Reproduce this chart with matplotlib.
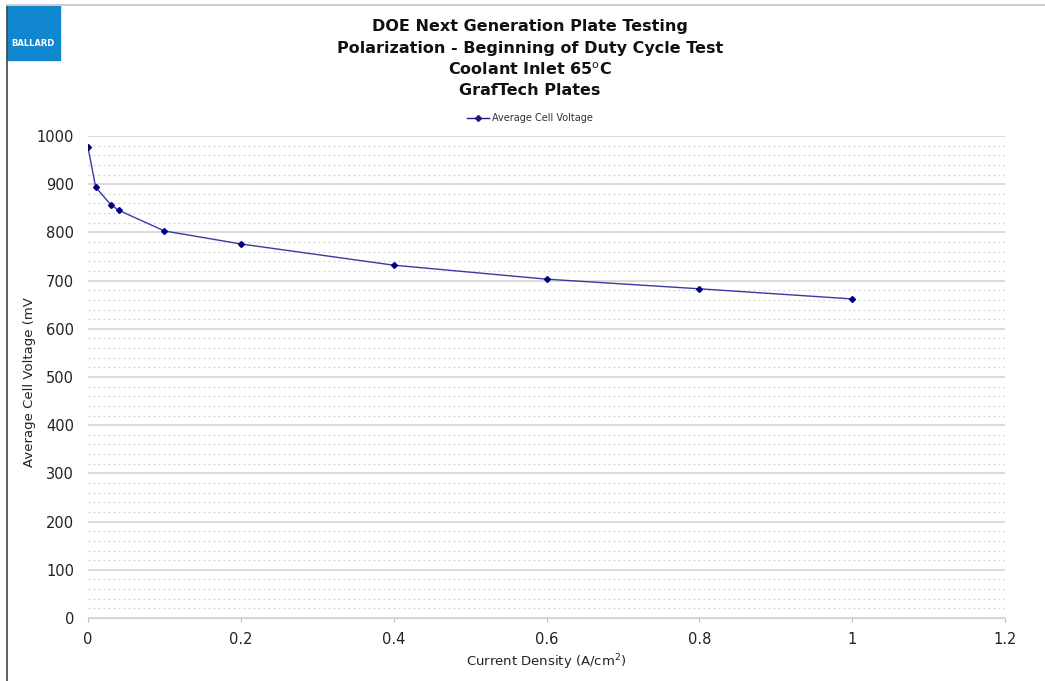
import matplotlib
matplotlib.use('Agg')
import matplotlib.pyplot as plt
from matplotlib.patches import Rectangle
from matplotlib.lines import Line2D
from matplotlib.ticker import MultipleLocator

# Data
current_density = [0.0, 0.01, 0.03, 0.04, 0.1, 0.2, 0.4, 0.6, 0.8, 1.0]
cell_voltage = [977, 894, 857, 846, 803, 776, 732, 703, 683, 662]

title_lines = ['DOE Next Generation Plate Testing',
               'Polarization - Beginning of Duty Cycle Test',
               'Coolant Inlet 65$^{\\mathrm{o}}$C',
               'GrafTech Plates']

fig = plt.figure(figsize=(10.45, 6.81), dpi=100)
ax = fig.add_axes([88 / 1045, 1 - 618 / 681, (1005 - 88) / 1045, (618 - 136) / 681])

navy = '#1a1a80'
ax.plot(current_density, cell_voltage, color='#3a3aa0', lw=1.0,
        marker='D', ms=3, mfc='#000080', mec='#000080', zorder=3)

ax.set_xlim(0, 1.2)
ax.set_ylim(0, 1000)
ax.yaxis.set_major_locator(MultipleLocator(100))
ax.yaxis.set_minor_locator(MultipleLocator(20))
ax.set_xticks([0, 0.2, 0.4, 0.6, 0.8, 1, 1.2])
ax.set_xticklabels(['0', '0.2', '0.4', '0.6', '0.8', '1', '1.2'])

ax.grid(axis='y', which='major', color='#d4d4d4', lw=1.2)
ax.grid(axis='y', which='minor', color='#d0d0d0', lw=0.9, ls=(0, (1.5, 2.5)))
for s in ['top', 'right', 'left']:
    ax.spines[s].set_visible(False)
ax.spines['bottom'].set_color('#d4d4d4')
ax.tick_params(axis='y', which='both', length=0, labelsize=10.5, pad=10, colors='#222222')
ax.tick_params(axis='x', length=3, color='#bbbbbb', labelsize=10.5, pad=7, labelcolor='#222222')

ax.set_xlabel('Current Density (A/cm$^2$)', fontsize=9.5, color='#222222', labelpad=4)
ax.set_ylabel('Average Cell Voltage (mV', fontsize=9.5, color='#222222')
ax.yaxis.set_label_coords(-0.057, 0.49)

# Titles
for i, line in enumerate(title_lines):
    fig.text(530 / 1045, 1 - (27 + i * 21.3) / 681, line, ha='center', va='center',
             fontsize=11.5, fontweight='bold', color='#111111')

# Legend
leg_handle = Line2D([], [], color=navy, lw=1, marker='D', ms=3)
fig.legend(handles=[leg_handle], labels=['Average Cell Voltage'], loc='center',
           bbox_to_anchor=(530 / 1045, 1 - 118 / 681), frameon=False,
           fontsize=7, handlelength=2.2, handletextpad=0.3, labelcolor='#333333')

# Frame lines and logo
fig.add_artist(Line2D([7 / 1045, 7 / 1045], [0, 1 - 5 / 681], color='#444444', lw=1.2,
                      transform=fig.transFigure))
fig.add_artist(Line2D([7 / 1045, 1], [1 - 5 / 681, 1 - 5 / 681], color='#cccccc', lw=1.5,
                      transform=fig.transFigure))
fig.add_artist(Rectangle((7 / 1045, 1 - 60 / 681), 53 / 1045, 55 / 681, color='#1187cf',
                         transform=fig.transFigure))
fig.text(33 / 1045, 1 - 43 / 681, 'BALLARD', ha='center', va='center', color='white',
         fontsize=6, fontweight='bold')

fig.savefig('out.png', dpi=100)
